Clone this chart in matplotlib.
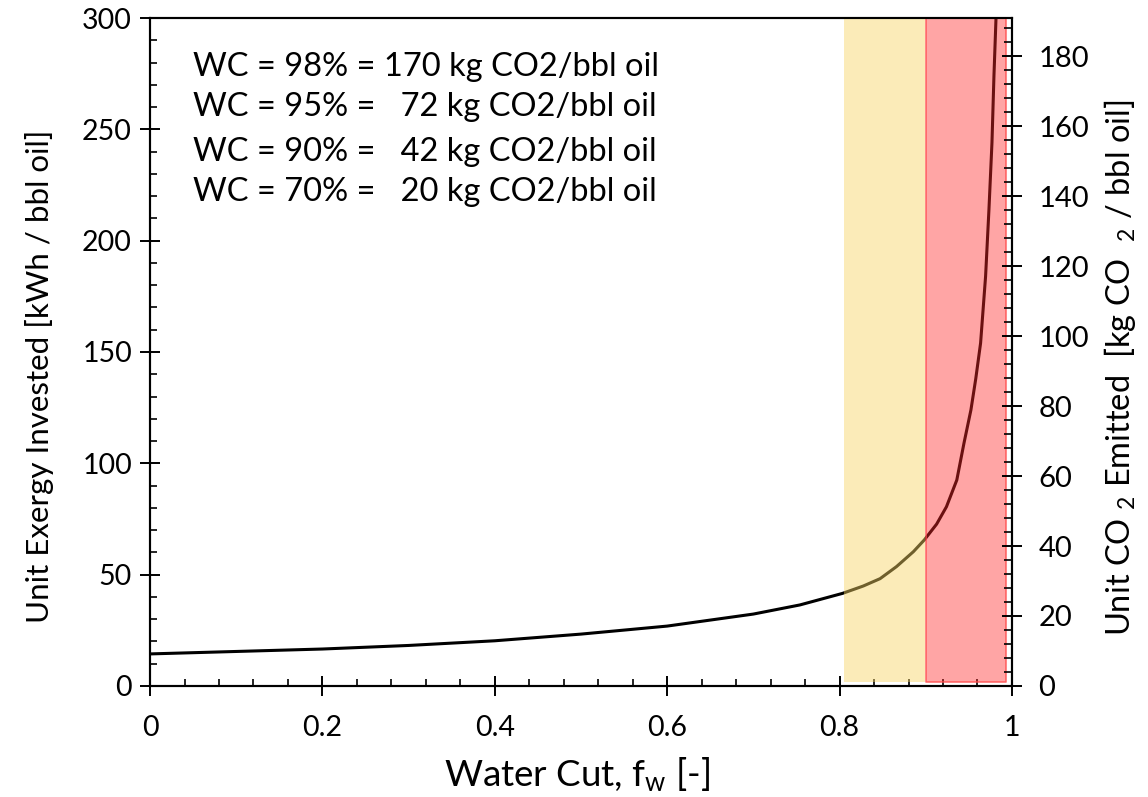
import matplotlib
matplotlib.use("Agg")
import matplotlib.pyplot as plt
from matplotlib.ticker import MultipleLocator

plt.rcParams['font.family'] = ['Lato', 'DejaVu Sans']
plt.rcParams['mathtext.fontset'] = 'custom'
plt.rcParams['mathtext.rm'] = 'Lato'
plt.rcParams['mathtext.it'] = 'Lato'

# curve
water_cut = [0, 0.1, 0.2, 0.3, 0.4, 0.5, 0.6, 0.7, 0.754, 0.8035, 0.8275, 0.847,
             0.866, 0.8856, 0.8983, 0.9126, 0.924, 0.930, 0.936, 0.9443, 0.9524,
             0.958, 0.9636, 0.9694, 0.9733, 0.9768, 0.9791, 0.9814]
exergy = [14.4, 15.5, 16.6, 18.2, 20.3, 23.3, 26.9, 32.3, 36.4, 41.6, 44.9, 48.2,
          53.6, 60.3, 65.6, 72.7, 80.5, 86.5, 92.5, 109, 124,
          138, 154, 184, 214, 244, 274, 299]

# shaded water cut zones
yellow_zone = [0.805, 0.899]
red_zone = [0.900, 0.993]

notes = ["WC = 98% = 170 kg CO2/bbl oil",
         "WC = 95% =   72 kg CO2/bbl oil",
         "WC = 90% =   42 kg CO2/bbl oil",
         "WC = 70% =   20 kg CO2/bbl oil"]
note_y = [278, 260, 240, 222]

fig = plt.figure(figsize=(11.48, 7.97), dpi=100)
ax = fig.add_axes([0.1307, 0.1393, 0.7508, 0.8381])

ax.plot(water_cut, exergy, color='black', lw=2.2, zorder=2)

ax.fill_between(yellow_zone, 2, 300, color='#F7D462', alpha=0.45, lw=0, zorder=3)
ax.fill_between(red_zone, 2, 300, facecolor=(1.0, 0.16, 0.16, 0.42),
                edgecolor=(1.0, 0.3, 0.3, 0.8), lw=1.2, zorder=3)

for t, y in zip(notes, note_y):
    ax.text(0.05, y, t, fontsize=23.5, va='center', ha='left')

ax.set_xlim(0, 1)
ax.set_ylim(0, 300)
ax.set_xticks([0, 0.2, 0.4, 0.6, 0.8, 1.0])
ax.set_xticklabels(['0', '0.2', '0.4', '0.6', '0.8', '1'])
ax.xaxis.set_minor_locator(MultipleLocator(0.04))
ax.yaxis.set_major_locator(MultipleLocator(50))
ax.yaxis.set_minor_locator(MultipleLocator(10))

ax.tick_params(which='major', direction='inout', length=14, width=1.4, labelsize=20.5)
ax.tick_params(which='minor', direction='in', length=5, width=1.2)
ax.tick_params(axis='x', which='major', pad=14)
ax.tick_params(axis='y', which='major', pad=6)
for s in ax.spines.values():
    s.set_linewidth(1.5)

ax.set_xlabel('Water Cut, f$_\\mathregular{w}$ [-]', fontsize=26.5)
ax.xaxis.label.set_va('center')
ax.xaxis.set_label_coords(0.495, -0.133)
ax.set_ylabel('Unit Exergy Invested [kWh / bbl oil]', fontsize=22.5)
ax.yaxis.label.set_va('center')
ax.yaxis.set_label_coords(-0.128, 0.463)

ax2 = ax.twinx()
ax2.set_ylim(0, 190.9)
ax2.yaxis.set_major_locator(MultipleLocator(20))
ax2.yaxis.set_minor_locator(MultipleLocator(4))
ax2.tick_params(which='major', direction='inout', length=14, width=1.4, pad=12, labelsize=21)
ax2.tick_params(which='minor', direction='in', length=6, width=1.2)
for s in ax2.spines.values():
    s.set_linewidth(1.5)
ax2.set_ylabel('Unit CO $_\\mathregular{2}$ Emitted  [kg CO  $_\\mathregular{2}$ / bbl oil]',
               fontsize=23.5)
ax2.yaxis.label.set_va('center')
ax2.yaxis.set_label_coords(1.125, 0.476)

fig.savefig('out.png', dpi=100)
